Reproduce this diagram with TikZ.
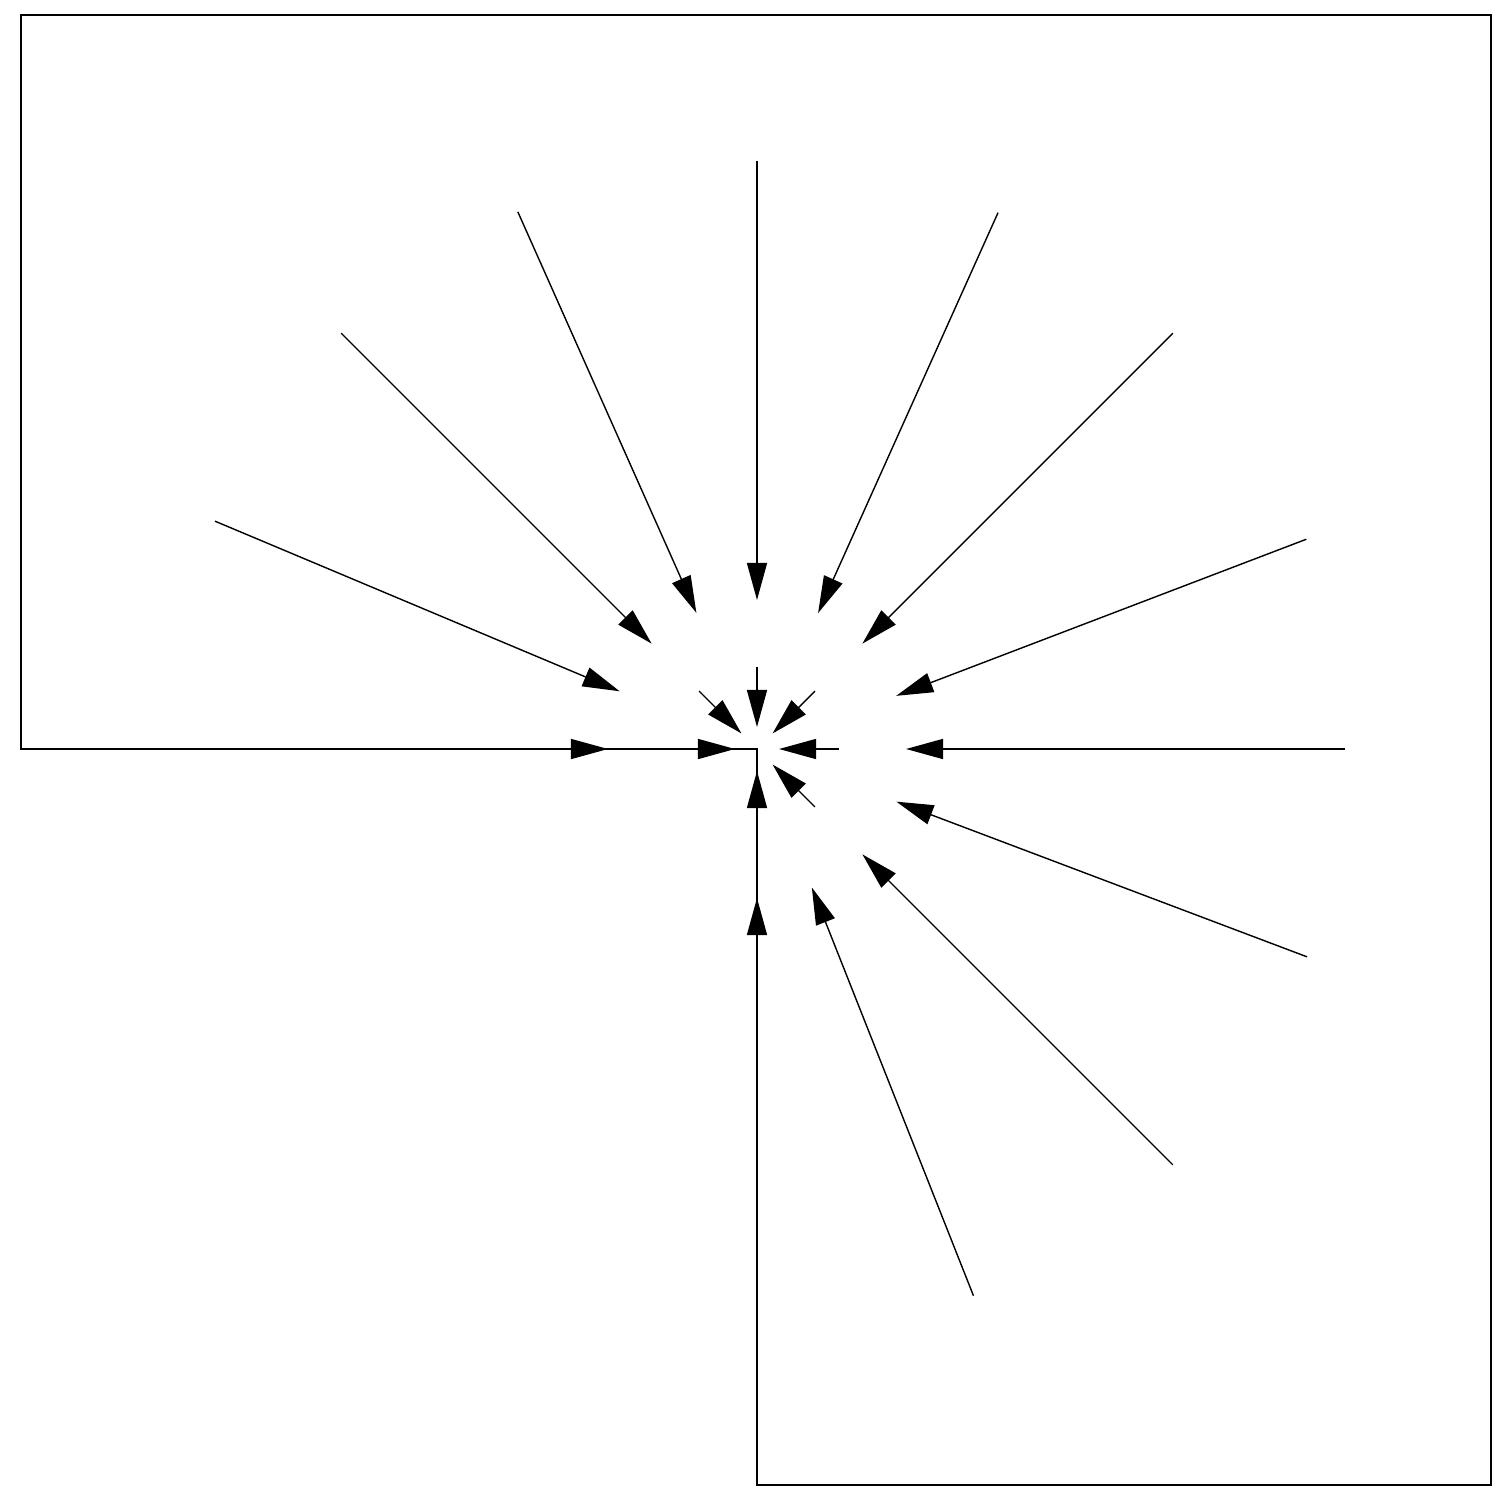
\documentclass[tikz,border=0pt]{standalone}
\usepackage{tikz}
\usetikzlibrary{arrows.meta}

\tikzset{
  wall/.style={line width=0.5pt},
  flow/.style={line width=0.4pt, -{Triangle[length=0.37cm,width=0.2cm]}}
}

\begin{document}
\begin{tikzpicture}[x=0.01cm, y=0.01cm]
\useasboundingbox (-757,-757) rectangle (753,749);
\coordinate (c) at (0,0);
% boundary of the domain
\draw[wall] (-736,0) -- (-736,734) -- (734,734) -- (734,-736) -- (0,-736) -- (0,0) -- cycle;
% outer ring
\foreach \a [count=\i] in {0,20.9,45,65.8,90,114,135,157.2,180,-20.7,-45,-68.4,-90}{
  \coordinate (o\i) at (\a:588);
  \coordinate (t\i) at (\a:149);
  \draw[flow] (o\i) -- (t\i);
}
% inner ring
\foreach \a [count=\i] in {0,45,90,135,180,-45,-90}{
  \coordinate (p\i) at (\a:82);
  \coordinate (q\i) at (\a:22);
  \draw[flow] (p\i) -- (q\i);
}
\end{tikzpicture}
\end{document}
